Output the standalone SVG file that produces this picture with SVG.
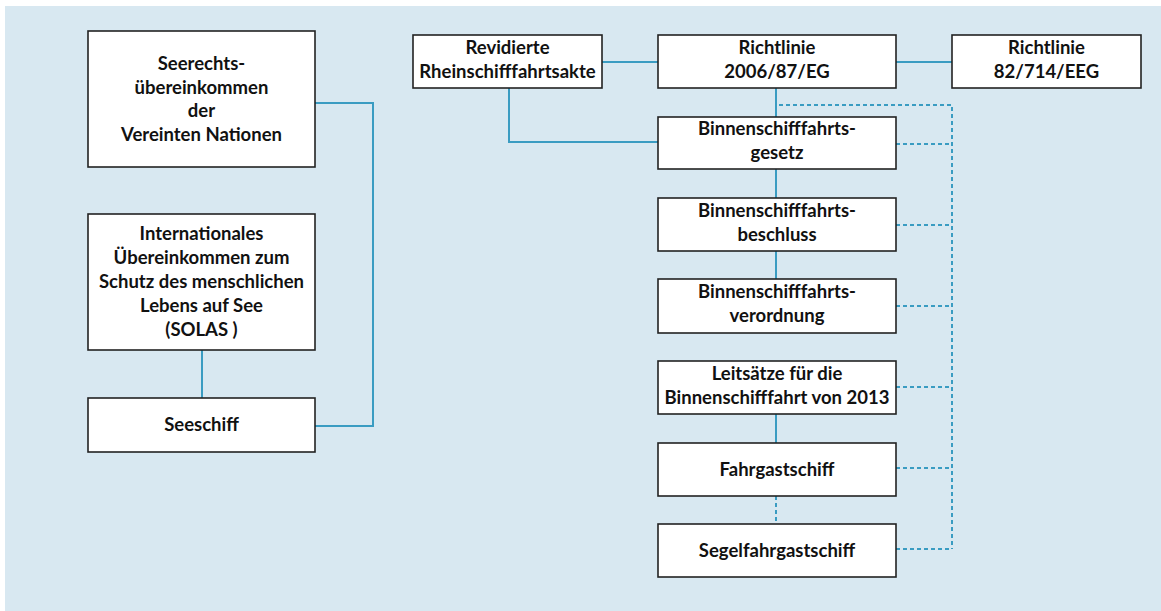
<svg xmlns="http://www.w3.org/2000/svg" width="1161" height="611" viewBox="0 0 1161 611">
<style>
.box{fill:#ffffff;stroke:#222222;stroke-width:1.6}
.t{font-family:Lato,"Liberation Sans",sans-serif;font-weight:bold;font-size:18.5px;fill:#111111;text-anchor:middle}
.s{fill:none;stroke:#3a9cc2;stroke-width:2}
.d{fill:none;stroke:#3a9cc2;stroke-width:2;stroke-dasharray:4 3}
</style>
<rect x="5" y="6" width="1156" height="605" fill="#d8e8f1"/>
<g id="connectors">
<path class="s" d="M315 103 H373 V426 H315"/>
<path class="s" d="M202 350 V398"/>
<path class="s" d="M602 62 H658"/>
<path class="s" d="M896 62 H952"/>
<path class="s" d="M509 88 V142 H658"/>
<path class="s" d="M776 88 V117"/>
<path class="s" d="M776 169 V198"/>
<path class="s" d="M776 251 V279"/>
<path class="s" d="M776 414 V443"/>
<path class="d" d="M776 496 V524"/>
<path class="d" d="M779 105 H952 V549"/>
<path class="d" d="M896 144 H952"/>
<path class="d" d="M896 225 H952"/>
<path class="d" d="M896 306 H952"/>
<path class="d" d="M896 387 H952"/>
<path class="d" d="M896 468 H952"/>
<path class="d" d="M896 549 H952"/>
</g>
<g id="n-seerecht">
<rect class="box" x="88" y="31" width="227" height="136"/>
<text class="t" x="201.5" y="70">Seerechts-</text>
<text class="t" x="201.5" y="93.5">übereinkommen</text>
<text class="t" x="201.5" y="117">der</text>
<text class="t" x="201.5" y="140.5">Vereinten Nationen</text>
</g>
<g id="n-solas">
<rect class="box" x="88" y="214" width="227" height="136"/>
<text class="t" x="201.5" y="240">Internationales</text>
<text class="t" x="201.5" y="264">Übereinkommen zum</text>
<text class="t" x="201.5" y="288">Schutz des menschlichen</text>
<text class="t" x="201.5" y="312">Lebens auf See</text>
<text class="t" x="201.5" y="336">(SOLAS )</text>
</g>
<g id="n-seeschiff">
<rect class="box" x="88" y="398" width="227" height="54"/>
<text class="t" x="201.5" y="431">Seeschiff</text>
</g>
<g id="n-rhein">
<rect class="box" x="413" y="35" width="189" height="53"/>
<text class="t" x="507.5" y="53.5">Revidierte</text>
<text class="t" x="507.5" y="77.5">Rheinschifffahrtsakte</text>
</g>
<g id="n-rl2006">
<rect class="box" x="658" y="35" width="238" height="53"/>
<text class="t" x="777" y="53.5">Richtlinie</text>
<text class="t" x="777" y="77.5">2006/87/EG</text>
</g>
<g id="n-rl82">
<rect class="box" x="952" y="35" width="189" height="53"/>
<text class="t" x="1046.5" y="53.5">Richtlinie</text>
<text class="t" x="1046.5" y="77.5">82/714/EEG</text>
</g>
<g id="n-gesetz">
<rect class="box" x="658" y="117" width="238" height="52"/>
<text class="t" x="777" y="135">Binnenschifffahrts-</text>
<text class="t" x="777" y="159">gesetz</text>
</g>
<g id="n-beschluss">
<rect class="box" x="658" y="198" width="238" height="53"/>
<text class="t" x="777" y="216.5">Binnenschifffahrts-</text>
<text class="t" x="777" y="240.5">beschluss</text>
</g>
<g id="n-verordnung">
<rect class="box" x="658" y="279" width="238" height="54"/>
<text class="t" x="777" y="298">Binnenschifffahrts-</text>
<text class="t" x="777" y="322">verordnung</text>
</g>
<g id="n-leitsaetze">
<rect class="box" x="658" y="361" width="238" height="53"/>
<text class="t" x="777" y="380">Leitsätze für die</text>
<text class="t" x="777" y="404">Binnenschifffahrt von 2013</text>
</g>
<g id="n-fahrgast">
<rect class="box" x="658" y="443" width="238" height="53"/>
<text class="t" x="777" y="475.5">Fahrgastschiff</text>
</g>
<g id="n-segel">
<rect class="box" x="658" y="524" width="238" height="53"/>
<text class="t" x="777" y="556.5">Segelfahrgastschiff</text>
</g>
</svg>
